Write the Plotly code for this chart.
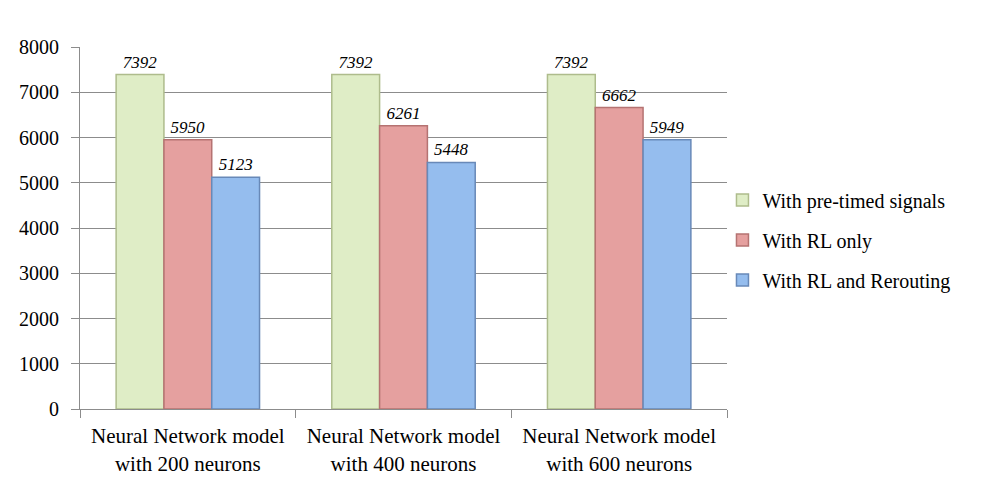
import plotly.graph_objects as go

categories = [
    "Neural Network model<br>with 200 neurons",
    "Neural Network model<br>with 400 neurons",
    "Neural Network model<br>with 600 neurons",
]
pre_timed = [7392, 7392, 7392]
rl_only = [5950, 6261, 6662]
rl_rerouting = [5123, 5448, 5949]

series = [
    ("With pre-timed signals", pre_timed, "#dfedc6", "#aebc8c"),
    ("With RL only", rl_only, "#e5a09f", "#b57372"),
    ("With RL and Rerouting", rl_rerouting, "#95bdee", "#6889b8"),
]

FONT = '"Liberation Serif", "Times New Roman", serif'

fig = go.Figure()
for name, vals, color, edge in series:
    fig.add_trace(go.Bar(
        x=categories,
        y=vals,
        name=name,
        legendgroup=name,
        marker=dict(color=color, line=dict(color=edge, width=1.5)),
        text=[str(v) for v in vals],
        textposition="outside",
        textfont=dict(family=FONT, size=17, color="#000000", style="italic"),
        cliponaxis=False,
    ))

fig.update_layout(
    width=987,
    height=501,
    paper_bgcolor="white",
    plot_bgcolor="white",
    font=dict(family=FONT, size=21, color="#000000"),
    barmode="group",
    bargap=0.335,
    bargroupgap=0,
    margin=dict(l=72, r=268, t=39, b=100),
    showlegend=True,
    legend=dict(
        x=0.993, y=0.467, xanchor="left", yanchor="middle",
        font=dict(family=FONT, size=20),
        traceorder="grouped",
        tracegroupgap=11,
        bgcolor="rgba(0,0,0,0)",
    ),
)
fig.update_yaxes(
    range=[0, 8000],
    dtick=1000,
    showgrid=True,
    gridcolor="#8c8c8c",
    gridwidth=1,
    showline=True,
    linecolor="#8c8c8c",
    ticks="outside",
    ticklen=8,
    tickcolor="#8c8c8c",
    ticklabelstandoff=8,
    tickfont=dict(size=20),
    zeroline=False,
)
fig.update_xaxes(
    showline=True,
    linecolor="#8c8c8c",
    ticks="outside",
    tickson="boundaries",
    ticklen=8,
    tickcolor="#8c8c8c",
    ticklabelstandoff=8,
)

fig.write_html("out.html")
